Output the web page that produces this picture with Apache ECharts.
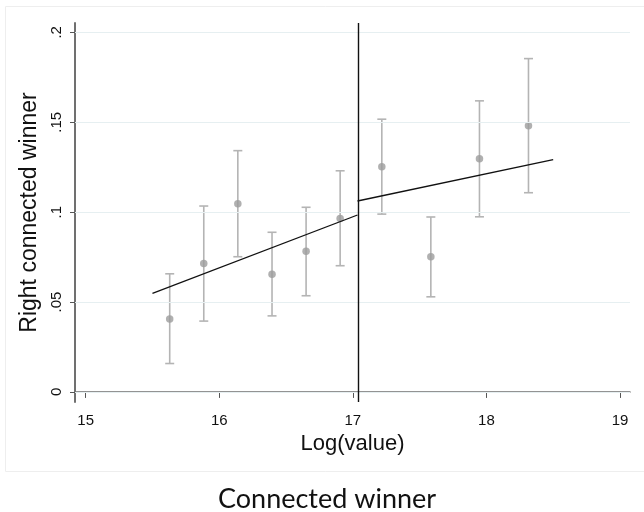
<!DOCTYPE html>
<html><head><meta charset="utf-8">
<script src="https://cdn.jsdelivr.net/npm/echarts@6/dist/echarts.min.js"></script>
<style>html,body{margin:0;padding:0;background:#fff}#c{width:644px;height:512px}</style>
</head><body><div id="c"></div>
<script>
// ---- data ----
const binX   = [15.629, 15.884, 16.139, 16.395, 16.650, 16.905, 17.217, 17.584, 17.948, 18.315];
const binY   = [0.0406, 0.0715, 0.1047, 0.0655, 0.0782, 0.0965, 0.1253, 0.0752, 0.1297, 0.1481];
const ciLow  = [0.0158, 0.0394, 0.0752, 0.0423, 0.0535, 0.0702, 0.0989, 0.0529, 0.0974, 0.1108];
const ciHigh = [0.0657, 0.1034, 0.1342, 0.0888, 0.1027, 0.1230, 0.1517, 0.0973, 0.1619, 0.1854];
const fitLeftX  = [15.50, 17.035];
const fitLeftY  = [0.0548, 0.0984];
const fitRightX = [17.035, 18.50];
const fitRightY = [0.1062, 0.1292];
const cutoff = 17.035;
const xTicks = [15, 16, 17, 18, 19];
const yTicks = [0, 0.05, 0.1, 0.15, 0.2];
const yTickLabels = ['0', '.05', '.1', '.15', '.2'];

const chart = echarts.init(document.getElementById('c'), null, {renderer: 'canvas'});
const axisFont = 'Liberation Sans, Arial, sans-serif';

const option = {
  animation: false,
  backgroundColor: '#ffffff',
  title: {
    text: 'Connected winner', left: 213, top: 481,
    textStyle: {fontFamily: 'Lato', fontSize: 27, fontWeight: 'normal', color: '#111'}
  },
  graphic: [{
    type: 'rect', shape: {x: 5.5, y: 6.5, width: 660, height: 465},
    style: {fill: 'none', stroke: '#eeeeee', lineWidth: 1}, silent: true, z: -1
  }],
  grid: {left: 75, right: 14, top: 23, bottom: 110, containLabel: false},
  xAxis: {
    type: 'value', min: 14.92, max: 19.075,
    name: 'Log(value)', nameLocation: 'middle', nameGap: 28,
    nameTextStyle: {fontFamily: axisFont, fontSize: 22, color: '#111'},
    axisLine: {show: true, lineStyle: {color: '#707070', width: 1.5}},
    axisTick: {show: true, length: 6, customValues: xTicks, lineStyle: {color: '#555', width: 1}},
    axisLabel: {customValues: xTicks, margin: 11, fontFamily: axisFont, fontSize: 15, color: '#111'},
    splitLine: {show: false}
  },
  yAxis: {
    type: 'value', min: -0.0056, max: 0.2052,
    name: 'Right connected winner', nameLocation: 'middle', nameGap: 25, nameRotate: 90,
    nameTextStyle: {fontFamily: axisFont, fontSize: 23, color: '#111'},
    axisLine: {show: true, lineStyle: {color: '#707070', width: 2}},
    axisTick: {show: true, length: 5, customValues: yTicks, lineStyle: {color: '#555', width: 1}},
    axisLabel: {
      customValues: yTicks, rotate: 90, margin: 11,
      fontFamily: axisFont, fontSize: 15, color: '#111',
      formatter: function (v) { const i = yTicks.findIndex(t => Math.abs(t - v) < 1e-9); return i >= 0 ? yTickLabels[i] : ''; }
    },
    splitLine: {show: false}
  },
  series: [
    {
      type: 'line', data: [], silent: true,
      markLine: {
        silent: true, symbol: 'none', label: {show: false},
        lineStyle: {color: '#e6eff1', width: 1.2, type: 'solid'},
        data: yTicks.map(v => ({yAxis: v}))
      }
    },
    {
      type: 'line', data: [], silent: true, z: 5,
      markLine: {
        silent: true, symbol: 'none', label: {show: false},
        lineStyle: {color: '#111', width: 1.4, type: 'solid'},
        data: [{xAxis: cutoff}]
      }
    },
    {
      type: 'custom', z: 3,
      data: binX.map((x, i) => [x, ciLow[i], ciHigh[i]]),
      renderItem: function (params, api) {
        const lo = api.coord([api.value(0), api.value(1)]);
        const hi = api.coord([api.value(0), api.value(2)]);
        const w = 4.5;
        const st = {stroke: '#b4b4b4', lineWidth: 1.6};
        return {type: 'group', children: [
          {type: 'line', shape: {x1: lo[0], y1: lo[1], x2: hi[0], y2: hi[1]}, style: st},
          {type: 'line', shape: {x1: lo[0] - w, y1: lo[1], x2: lo[0] + w, y2: lo[1]}, style: st},
          {type: 'line', shape: {x1: hi[0] - w, y1: hi[1], x2: hi[0] + w, y2: hi[1]}, style: st}
        ]};
      }
    },
    {
      type: 'scatter', z: 4, symbol: 'circle', symbolSize: 7.5,
      itemStyle: {color: '#9c9c9c'},
      data: binX.map((x, i) => [x, binY[i]])
    },
    {
      type: 'line', z: 6, symbol: 'none', lineStyle: {color: '#111', width: 1.3},
      data: fitLeftX.map((x, i) => [x, fitLeftY[i]])
    },
    {
      type: 'line', z: 6, symbol: 'none', lineStyle: {color: '#111', width: 1.3},
      data: fitRightX.map((x, i) => [x, fitRightY[i]])
    }
  ]
};
chart.setOption(option);
</script>
</body></html>
